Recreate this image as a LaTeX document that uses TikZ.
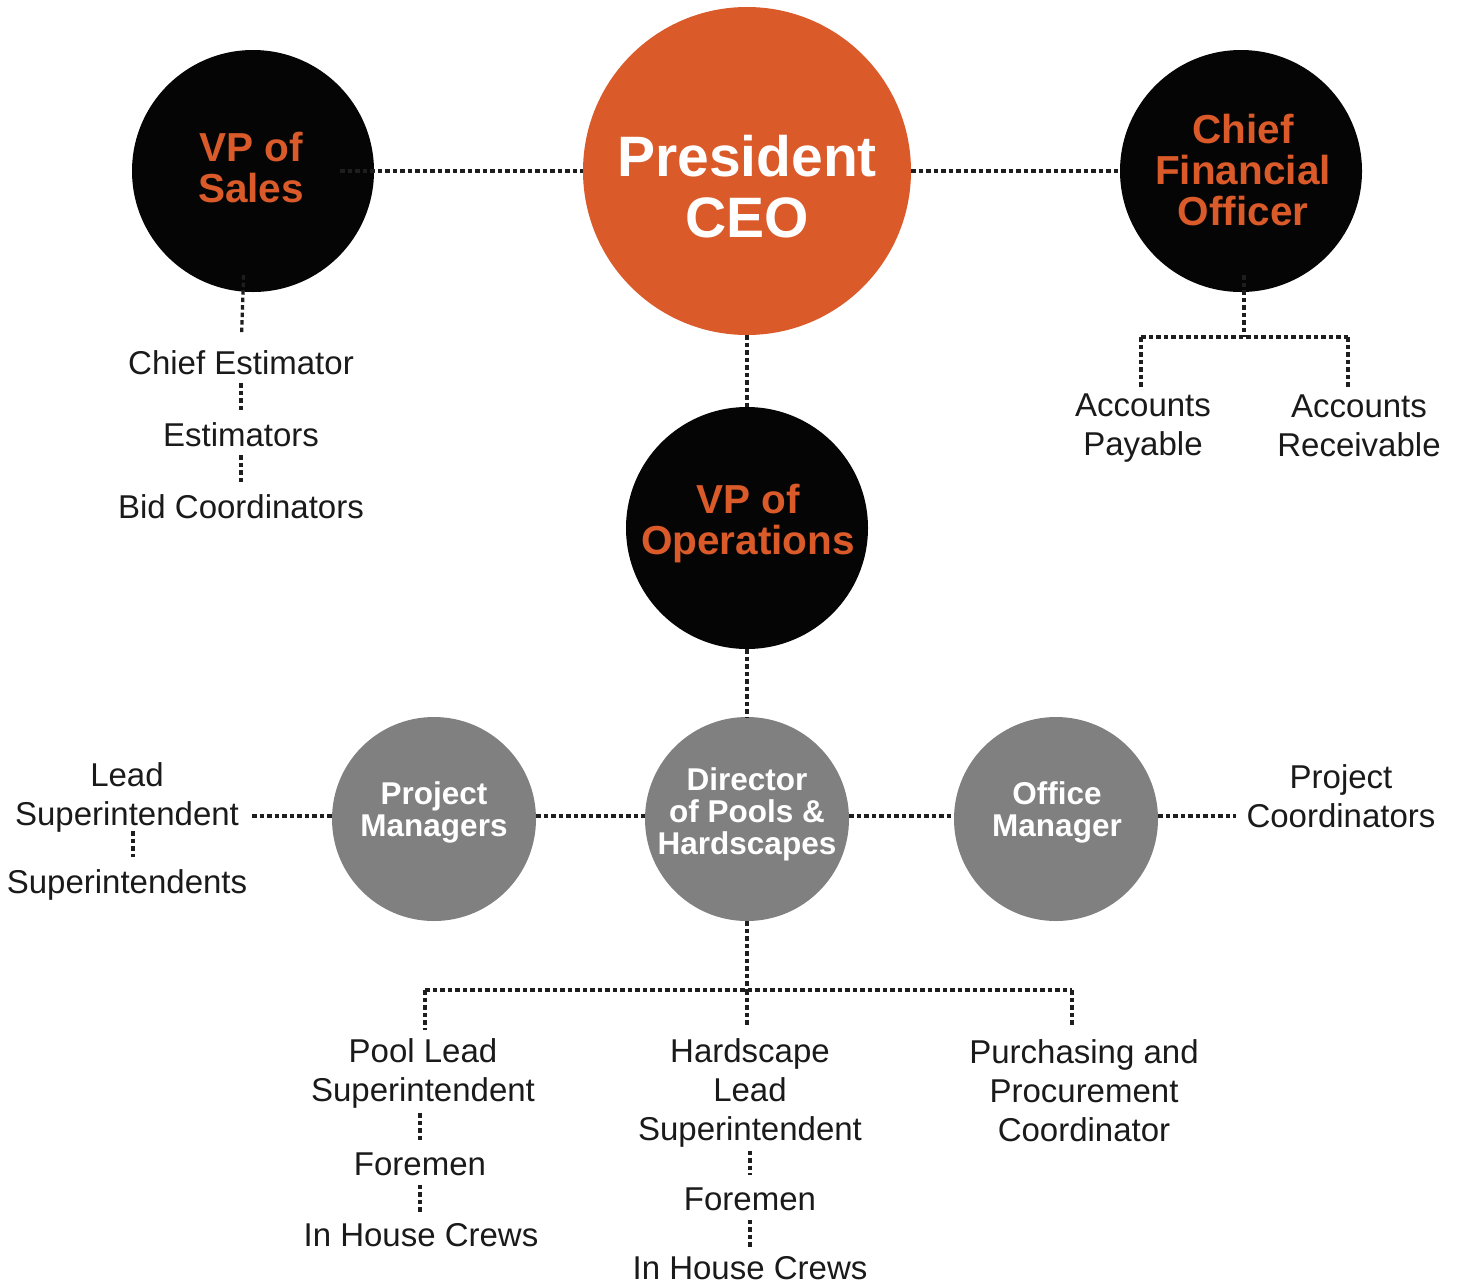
\documentclass[tikz,border=0pt]{standalone}
\usepackage{fontspec}
\setmainfont{Liberation Sans}
\definecolor{orng}{HTML}{DA5A2A}
\definecolor{blk}{HTML}{050505}
\definecolor{gry}{HTML}{808080}
\definecolor{dotc}{HTML}{1E1E1E}
\definecolor{txt}{HTML}{1A1A1A}
\begin{document}
\begin{tikzpicture}[x=1pt,y=-1pt,
  bigc/.style={circle,fill=blk,minimum size=242pt,inner sep=0pt},
  ceoc/.style={circle,fill=orng,minimum size=328pt,inner sep=0pt},
  grc/.style={circle,fill=gry,minimum size=204pt,inner sep=0pt},
  hd/.style={font=\bfseries\fontsize{40.5}{41}\selectfont,text=orng,align=center,inner sep=0pt},
  ceotx/.style={font=\bfseries\fontsize{57}{61}\selectfont,text=white,align=center,inner sep=0pt},
  gt/.style={font=\bfseries\fontsize{31.5}{32}\selectfont,text=white,align=center,inner sep=0pt},
  lbl/.style={font=\fontsize{33}{39}\selectfont,text=txt,align=center,inner sep=0pt},
  conn/.style={draw=dotc,line width=3.2pt,dash pattern=on 4.5pt off 3pt},
  link/.style={conn,shorten <=8pt,shorten >=12pt}]
\useasboundingbox (0,0) rectangle (1458,1283);

% circles
\node[bigc] (sales) at (253,171) {};
\node[ceoc] (ceo) at (747,171) {};
\node[bigc] (cfo) at (1241,171) {};
\node[bigc] (ops) at (747,528) {};
\node[grc] (pm) at (434,819) {};
\node[grc] (dir) at (747,819) {};
\node[grc] (om) at (1056,819) {};

% labels
\node[lbl] (ce) at (241,363) {Chief Estimator};
\node[lbl] (es) at (241,435) {Estimators};
\node[lbl] (bc) at (241,507) {Bid Coordinators};
\node[lbl] (ap) at (1143,428) {Accounts\\Payable};
\node[lbl] (ar) at (1359,426) {Accounts\\Receivable};
\node[lbl] (ls) at (127,797) {Lead\\Superintendent};
\node[lbl] (ss) at (127,885) {Superintendents};
\node[lbl] (pc) at (1341,796) {Project\\Coordinators};
\node[lbl] (pl) at (423,1073) {Pool Lead\\Superintendent};
\node[lbl] (f1) at (420,1164) {Foremen};
\node[lbl] (ih1) at (421,1235) {In House Crews};
\node[lbl] (hl) at (750,1093) {Hardscape\\Lead\\Superintendent};
\node[lbl] (f2) at (750,1199) {Foremen};
\node[lbl] (ih2) at (750,1268) {In House Crews};
\node[lbl] (pp) at (1084,1091) {Purchasing and\\Procurement\\Coordinator};

% coordinates
\coordinate (cfoj) at (1244,337);
\coordinate (apj) at (1141,337);
\coordinate (arj) at (1348,337);
\coordinate (dj) at (747,990);
\coordinate (plj) at (425,990);
\coordinate (ppj) at (1072,990);

% connectors
\draw[conn,shorten <=-34pt] (sales.east) -- (ceo.west);
\draw[conn] (ceo) -- (cfo);
\draw[conn] (ceo) -- (ops);
\draw[conn] (ops) -- (dir);
\draw[conn] (pm.east |- 0,816) -- (dir.west |- 0,816);
\draw[conn] (dir.east |- 0,816) -- (om.west |- 0,816);
\draw[conn,shorten >=10pt] (om.east |- 0,816) -- (pc.west |- 0,816);
\draw[conn,shorten <=13pt] (ls.east |- 0,816) -- (pm.west |- 0,816);
\draw[conn,shorten <=-1pt,shorten >=12pt] ([xshift=6pt]ls.south) -- ([xshift=6pt]ss.north);

\draw[conn,shorten <=-17pt,shorten >=16pt] ([xshift=-10pt]sales.south) -- (ce.north);
\draw[link] (ce) -- (es);
\draw[link] (es) -- (bc);

\draw[conn,shorten <=-17pt] (cfoj |- cfo.south) -- (cfoj);
\draw[conn] (apj) -- (arj);
\draw[conn,shorten >=6pt] (apj) -- (apj |- ap.north);
\draw[conn,shorten >=8pt] (arj) -- (arj |- ar.north);

\draw[conn] (dir) -- (dj);
\draw[conn] (plj) -- (ppj);
\draw[conn,shorten >=8pt] (plj) -- (plj |- pl.north);
\draw[conn,shorten >=12pt] (dj) -- (dj |- hl.north);
\draw[conn,shorten >=13pt] (ppj) -- (ppj |- pp.north);
\draw[conn,shorten <=5pt,shorten >=12pt] (f1.north |- pl.south) -- (f1.north);
\draw[conn,shorten <=9pt,shorten >=10pt] (f1.south) -- (ih1.north -| f1.south);
\draw[conn,shorten <=3pt,shorten >=12pt] (hl.south) -- (f2.north);
\draw[conn,shorten <=9pt,shorten >=9pt] (f2.south) -- (ih2.north);

% circle texts
\node[hd] (salest) at (251,168) {VP of\\Sales};
\node[ceotx] (ceot) at (747,187) {President\\CEO};
\node[hd] (cfot) at (1243,170) {Chief\\Financial\\Officer};
\node[hd] (opst) at (748,524) {VP of\\Operations};
\node[gt] (pmt) at (434,812) {Project\\Managers};
\node[gt] (dirt) at (747,814) {Director\\of Pools \&\\Hardscapes};
\node[gt] (omt) at (1057,812) {Office\\Manager};
\end{tikzpicture}
\end{document}
